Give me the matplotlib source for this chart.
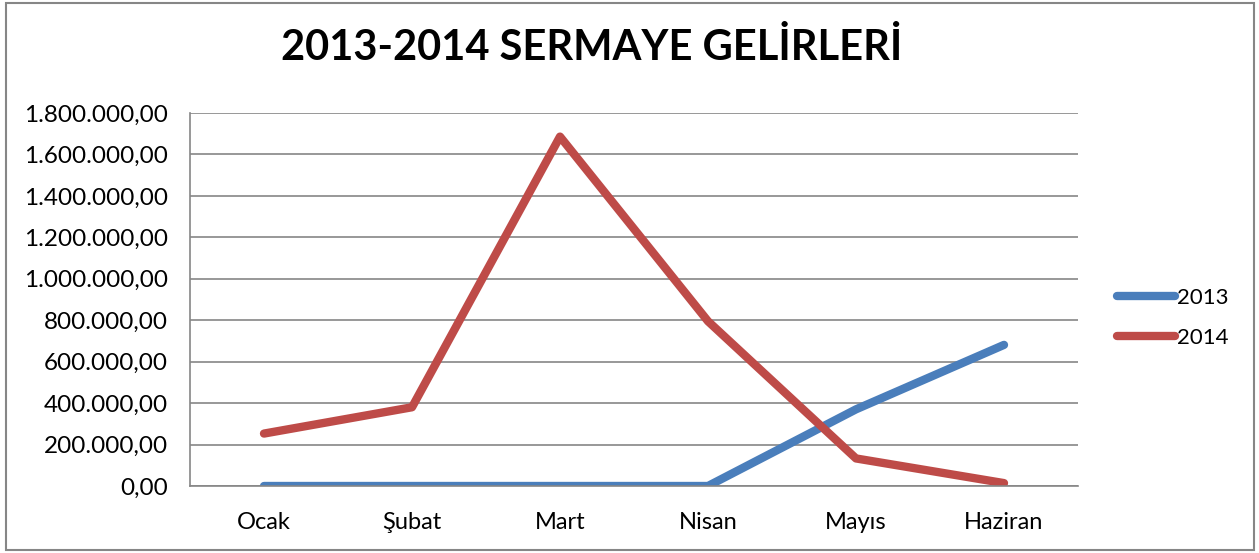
import matplotlib
matplotlib.use("Agg")
import matplotlib.pyplot as plt
from matplotlib.patches import Rectangle
from matplotlib.ticker import FuncFormatter

plt.rcParams['font.family'] = ['Lato', 'DejaVu Sans']

months = ["Ocak", "Şubat", "Mart", "Nisan", "Mayıs", "Haziran"]
gelir_2013 = [0, 0, 0, 0, 370000, 681000]
gelir_2014 = [253000, 380000, 1686000, 795000, 133000, 14000]

W, H = 1259, 553
fig = plt.figure(figsize=(W / 100, H / 100), dpi=100)
ax = fig.add_axes([190 / W, 1 - 486 / H, (1078 - 190) / W, (486 - 113) / H])

x = range(len(months))
ax.plot(x, gelir_2013, color="#4A7EBB", lw=6, solid_capstyle="round", solid_joinstyle="round", label="2013")
ax.plot(x, gelir_2014, color="#BE4B48", lw=6, solid_capstyle="round", solid_joinstyle="round", label="2014")

ax.set_xlim(-0.5, len(months) - 0.5)
ax.set_ylim(0, 1800000)
ax.set_yticks(range(0, 1800001, 200000))
ax.yaxis.set_major_formatter(FuncFormatter(lambda v, p: f"{v:,.2f}".replace(",", "X").replace(".", ",").replace("X", ".")))
ax.set_xticks(list(x))
ax.set_xticklabels(months)
ax.tick_params(axis="y", length=0, labelsize=17.5, pad=16)
ax.tick_params(axis="x", length=0, labelsize=17, pad=19)
ax.grid(axis="y", color="#868686", lw=1.2)
ax.set_axisbelow(True)
for s in ("top", "right"):
    ax.spines[s].set_visible(False)
for s in ("left", "bottom"):
    ax.spines[s].set_color("#868686")
    ax.spines[s].set_linewidth(1.2)

fig.text(592 / W, 1 - 48 / H, "2013-2014 SERMAYE GELİRLERİ", ha="center", va="center",
         fontsize=30, fontweight="bold")

ax.legend(loc="center left", bbox_to_anchor=(1097 / W, 1 - 318 / H), bbox_transform=fig.transFigure,
          frameon=False, fontsize=16, handlelength=2.6, handletextpad=0.1, labelspacing=0.9)

fig.patches.append(Rectangle((6 / W, 3 / H), (1254 - 6) / W, (550 - 3) / H, transform=fig.transFigure,
                             fill=False, edgecolor="#868686", lw=1.5))

fig.savefig("out.png", dpi=100)
